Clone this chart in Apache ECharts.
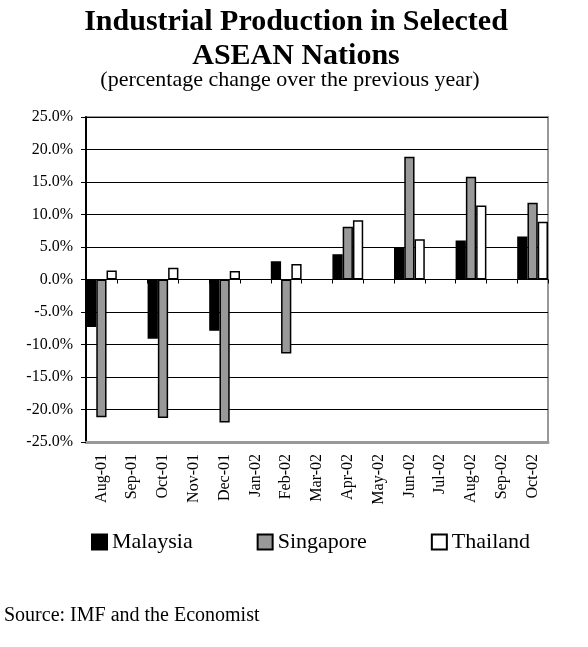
<!DOCTYPE html>
<html>
<head>
<meta charset="utf-8">
<script src="https://cdn.jsdelivr.net/npm/echarts@6/dist/echarts.min.js"></script>
<style>
    html, body { margin: 0; padding: 0; background: #fff; }
    #chart { width: 588px; height: 647px; }
</style>
</head>
<body>
<div id="chart"></div>
<script>
// months on the category axis
const months = ['Aug-01', 'Sep-01', 'Oct-01', 'Nov-01', 'Dec-01', 'Jan-02', 'Feb-02', 'Mar-02',
    'Apr-02', 'May-02', 'Jun-02', 'Jul-02', 'Aug-02', 'Sep-02', 'Oct-02'];

// percentage change over previous year (only every other month reported)
const malaysia  = [-7.3, null, -9.1, null, -7.9, null, 2.8, null, 3.9, null, 5.0, null, 6.0, null, 6.6];
const singapore = [-21.2, null, -21.3, null, -22.0, null, -11.4, null, 8.1, null, 18.9, null, 15.8, null, 11.8];
const thailand  = [1.4, null, 1.8, null, 1.3, null, 2.4, null, 9.1, null, 6.2, null, 11.4, null, 8.9];

const yTicks = { min: -25, max: 25, step: 5 };

const serif = '"Liberation Serif", "Times New Roman", serif';

const chart = echarts.init(document.getElementById('chart'));

const barStyle = (fill) => ({ color: fill, borderColor: '#000', borderWidth: 1.5 });

chart.setOption({
    animation: false,
    title: [
        {
            text: 'Industrial Production in Selected\nASEAN Nations',
            left: 291, top: 0, textAlign: 'center',
            textStyle: { fontFamily: serif, fontSize: 30, fontWeight: 'bold', color: '#000', lineHeight: 34 }
        },
        {
            text: '(percentage change over the previous year)',
            left: 285, top: 64, textAlign: 'center',
            textStyle: { fontFamily: serif, fontSize: 22, fontWeight: 'normal', color: '#000' }
        },
        {
            text: 'Source: IMF and the Economist',
            left: 4, top: 606, padding: 0,
            textStyle: { fontFamily: serif, fontSize: 20, fontWeight: 'normal', color: '#000' }
        }
    ],
    legend: {
        left: 86, top: 526,
        itemGap: 64, itemWidth: 15, itemHeight: 15,
        icon: 'rect',
        textStyle: { fontFamily: serif, fontSize: 22, color: '#000' },
        data: ['Malaysia', 'Singapore', 'Thailand']
    },
    grid: {
        left: 86, right: 40, top: 117, bottom: 205,
        show: true, borderColor: '#999', borderWidth: 2, backgroundColor: '#fff'
    },
    xAxis: [
        {
            type: 'category', data: months,
            axisLine: { onZero: true, lineStyle: { color: '#000', width: 1 } },
            axisTick: { show: true, interval: 0, length: 4, lineStyle: { color: '#000' } },
            axisLabel: { show: false },
            splitLine: { show: false }
        },
        {
            type: 'category', data: months, position: 'bottom',
            axisLine: { onZero: false, lineStyle: { color: '#999', width: 3 } },
            axisTick: { show: false },
            axisLabel: {
                rotate: 90, margin: 12, interval: 0, padding: [10, 0, 0, 0],
                fontFamily: serif, fontSize: 16, color: '#000'
            }
        }
    ],
    yAxis: {
        type: 'value', min: yTicks.min, max: yTicks.max, interval: yTicks.step,
        axisLine: { show: true, lineStyle: { color: '#000', width: 2 } },
        axisTick: { show: true, length: 5, lineStyle: { color: '#000' } },
        axisLabel: {
            margin: 13, fontFamily: serif, fontSize: 16, color: '#000',
            formatter: (v) => v.toFixed(1) + '%'
        },
        splitLine: { lineStyle: { color: '#000', width: 1 } }
    },
    series: [
        { name: 'Malaysia', type: 'bar', data: malaysia, xAxisIndex: 0, barGap: '0%', barCategoryGap: '0%', itemStyle: barStyle('#000') },
        { name: 'Singapore', type: 'bar', data: singapore, xAxisIndex: 0, barGap: '0%', barCategoryGap: '0%', itemStyle: barStyle('#999') },
        { name: 'Thailand', type: 'bar', data: thailand, xAxisIndex: 0, barGap: '0%', barCategoryGap: '0%', itemStyle: barStyle('#fff') }
    ]
});
</script>
</body>
</html>
